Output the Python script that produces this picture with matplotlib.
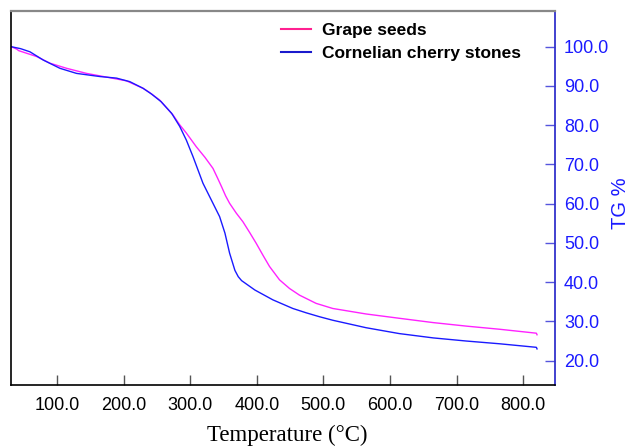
import matplotlib
matplotlib.use("Agg")
import matplotlib.pyplot as plt
from matplotlib.lines import Line2D

# Thermogravimetric curves (temperature in °C, remaining mass in %)
grape_temp = [31, 39, 42, 69, 89, 114, 144, 179, 204, 229, 239, 254, 274, 284, 294,
              309, 322, 334, 341, 347, 353, 359, 369, 379, 389, 399, 409, 419, 434,
              449, 464, 489, 514, 564, 614, 665, 715, 765, 820, 821]
grape_tg = [100.0, 99.4, 99.0, 97.5, 95.8, 94.5, 93.2, 92.1, 91.3, 89.4, 88.3, 86.4,
            82.6, 80.1, 78.0, 74.5, 71.8, 69.0, 66.5, 64.3, 62.0, 60.1, 57.6, 55.4,
            52.7, 49.9, 46.9, 44.0, 40.6, 38.4, 36.7, 34.6, 33.3, 31.9, 30.8, 29.7,
            28.8, 28.0, 27.0, 26.6]

cherry_temp = [31, 45, 59, 79, 104, 129, 164, 189, 209, 229, 242, 256, 272, 284, 294,
               304, 319, 334, 344, 352, 359, 367, 372, 377, 397, 424, 454, 474, 494,
               514, 564, 614, 665, 715, 765, 820, 821]
cherry_tg = [100.0, 99.5, 98.7, 96.6, 94.5, 93.2, 92.4, 92.0, 91.1, 89.4, 87.9, 86.0,
             83.0, 79.7, 76.2, 72.0, 65.2, 60.1, 56.7, 52.5, 47.4, 43.0, 41.4, 40.4,
             38.0, 35.5, 33.3, 32.2, 31.2, 30.3, 28.4, 26.9, 25.8, 25.0, 24.3, 23.4,
             23.0]

x_ticks = [100, 200, 300, 400, 500, 600, 700, 800]
y_ticks = [20, 30, 40, 50, 60, 70, 80, 90, 100]

W, H = 629, 446
fig = plt.figure(figsize=(W / 100, H / 100), dpi=100)
ax = fig.add_axes([11 / W, 1 - 385 / H, (555 - 11) / W, (385 - 11) / H])

ax.plot(grape_temp, grape_tg, color="#ff22ff", lw=1.0)
ax.plot(cherry_temp, cherry_tg, color="#1a1aff", lw=1.0)

ax.set_xlim(30.5, 848)
ax.set_ylim(13.8, 109.1)

sans = "Liberation Sans"
ax.set_xticks(x_ticks)
ax.set_xticklabels([f"{v:.1f}" for v in x_ticks], fontfamily=sans, fontsize=13)
ax.yaxis.tick_right()
ax.set_yticks(y_ticks)
ax.set_yticklabels([f"{v:.1f}" for v in y_ticks], fontfamily=sans, fontsize=13,
                   color="#1a1aff")
ax.tick_params(axis="x", direction="in", length=7, width=1, color="#555555", pad=9)
ax.tick_params(axis="y", direction="in", length=7, width=1, color="#5555dd", pad=6.5)

for side, col, lw in [("left", "black", 1.2), ("bottom", "black", 1.2),
                      ("right", "#3333cc", 1.3), ("top", "#888888", 1.6)]:
    ax.spines[side].set_color(col)
    ax.spines[side].set_linewidth(lw)

ax.set_xlabel("Temperature (°C)", fontfamily="Liberation Serif", fontsize=16.5,
              va="center")
ax.xaxis.set_label_coords((287 - 11) / 544, (385 - 435) / 374)

fig.text(620 / W, 1 - 203 / H, "TG %", rotation=90, ha="center", va="center",
         fontfamily=sans, fontsize=14.5, color="#1a1aff")

handles = [Line2D([], [], color="#ff2090", lw=1.5),
           Line2D([], [], color="#1a1acc", lw=1.5)]
ax.legend(handles, ["Grape seeds", "Cornelian cherry stones"],
          loc="upper left", bbox_to_anchor=(281 / W, 1 - 23 / H),
          bbox_transform=fig.transFigure, frameon=False, borderpad=0,
          borderaxespad=0, handlelength=1.72, handletextpad=0.63,
          labelspacing=0.45, prop={"family": sans, "weight": "bold", "size": 12.5})

fig.savefig("out.png", dpi=100)
